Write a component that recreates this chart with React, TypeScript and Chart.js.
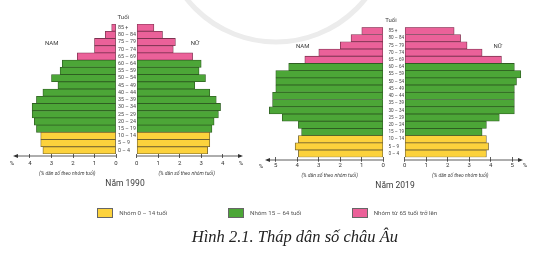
import React, { useEffect, useRef } from "react";
import { Chart, registerables } from "chart.js";

Chart.register(...registerables);

// ---------- data ----------
const AGE_GROUPS = [
  "85 +", "80 – 84", "75 – 79", "70 – 74", "65 – 69", "60 – 64", "55 – 59",
  "50 – 54", "45 – 49", "40 – 44", "35 – 39", "30 – 34", "25 – 29",
  "20 – 24", "15 – 19", "10 – 14", "5 – 9", "0 – 4",
];
// group of each age row: 0 = 0–14, 1 = 15–64, 2 = 65+
const AGE_GROUP_INDEX = [2, 2, 2, 2, 2, 1, 1, 1, 1, 1, 1, 1, 1, 1, 1, 0, 0, 0];

const MALE_1990 = [0.2, 0.5, 1.0, 1.0, 1.8, 2.5, 2.6, 3.0, 2.7, 3.4, 3.7, 3.9, 3.9, 3.8, 3.7, 3.5, 3.5, 3.4];
const FEMALE_1990 = [0.8, 1.2, 1.8, 1.7, 2.6, 3.0, 2.9, 3.2, 2.7, 3.4, 3.7, 3.9, 3.8, 3.6, 3.5, 3.4, 3.4, 3.3];
const MALE_2019 = [1.0, 1.5, 2.0, 3.0, 3.65, 4.4, 5.0, 5.0, 5.0, 5.15, 5.15, 5.3, 4.7, 3.95, 3.8, 3.95, 4.1, 3.95];
const FEMALE_2019 = [2.3, 2.6, 2.9, 3.6, 4.5, 5.1, 5.4, 5.2, 5.1, 5.1, 5.1, 5.1, 4.4, 3.8, 3.6, 3.8, 3.9, 3.8];

const GROUP_LABELS = ["Nhóm 0 – 14 tuổi", "Nhóm 15 – 64 tuổi", "Nhóm từ 65 tuổi trở lên"];
const GROUP_COLORS = ["#FCD23C", "#4CA637", "#EB6199"];
const GROUP_BORDERS = ["#6f6130", "#2f5e22", "#7d3350"];

const AXIS_TITLE = "(% dân số theo nhóm tuổi)";
const FONT = 'Roboto, "Liberation Sans", sans-serif';

// ---------- plugin: axis line with arrow ----------
const axisArrowPlugin = {
  id: "axisArrow",
  afterDraw(chart: any, _args: any, opts: any) {
    const { ctx, chartArea } = chart;
    const y = chartArea.bottom + opts.gap;
    const zeroX = chart.scales.x.getPixelForValue(0);
    const tipX = opts.side === "male" ? chartArea.left : chartArea.right;
    const dir = opts.side === "male" ? -1 : 1;
    ctx.save();
    ctx.strokeStyle = "#333";
    ctx.lineWidth = 0.8;
    ctx.beginPath();
    ctx.moveTo(zeroX, y);
    ctx.lineTo(tipX - dir * 2, y);
    ctx.stroke();
    ctx.fillStyle = "#333";
    ctx.beginPath();
    ctx.moveTo(tipX, y);
    ctx.lineTo(tipX - dir * 5, y - 2);
    ctx.lineTo(tipX - dir * 5, y + 2);
    ctx.closePath();
    ctx.fill();
    ctx.restore();
  },
};

type HalfProps = {
  values: number[];
  side: "male" | "female";
  zero: number;
  tip: number;
  top: number;
  bottom: number;
  ppu: number;
  gap: number;
  tickLen: number;
  tickPad: number;
  ageW: number;
  ageFont: number;
};

function HalfChart(p: HalfProps) {
  const ref = useRef<HTMLCanvasElement | null>(null);
  const AXH = 20;
  const isF = p.side === "female";
  const areaLeft = isF ? p.zero : p.tip;
  const areaRight = isF ? p.tip : p.zero;
  const yW = isF ? p.ageW : 0;
  const canvasLeft = Math.floor(areaLeft - yW - 8);
  const canvasRight = Math.ceil(areaRight + 8);
  const padLeft = areaLeft - yW - canvasLeft;
  const padRight = canvasRight - areaRight;
  const canvasTop = Math.floor(p.top - 8);
  const padTop = p.top - canvasTop;
  const areaH = p.bottom - p.top;
  const canvasH = Math.ceil(padTop + areaH + AXH);
  const padBottom = canvasH - padTop - areaH - AXH;
  const canvasW = canvasRight - canvasLeft;
  const max = (areaRight - areaLeft) / p.ppu;

  useEffect(() => {
    if (!ref.current) return;
    const chart = new Chart(ref.current, {
      type: "bar",
      data: {
        labels: AGE_GROUPS,
        datasets: [
          {
            data: p.values,
            backgroundColor: AGE_GROUP_INDEX.map((g) => GROUP_COLORS[g]),
            borderColor: AGE_GROUP_INDEX.map((g) => GROUP_BORDERS[g]),
            borderWidth: 0.8,
            borderSkipped: false,
            barPercentage: 1,
            categoryPercentage: 1,
          },
        ],
      },
      options: {
        indexAxis: "y",
        responsive: false,
        maintainAspectRatio: false,
        animation: false,
        layout: { padding: { left: padLeft, right: padRight, top: padTop, bottom: padBottom } },
        plugins: {
          legend: { display: false },
          tooltip: { enabled: false },
          axisArrow: { gap: p.gap, side: p.side },
        } as any,
        scales: {
          x: {
            type: "linear",
            min: 0,
            max,
            reverse: !isF,
            position: "bottom",
            afterFit: (s: any) => {
              s.height = AXH;
            },
            border: { display: false },
            grid: {
              display: true,
              drawOnChartArea: false,
              drawTicks: true,
              tickLength: p.tickLen,
              color: "#333",
              lineWidth: 0.8,
            },
            ticks: {
              stepSize: 1,
              includeBounds: false,
              padding: p.tickPad,
              color: "#333",
              font: { family: FONT, size: 6 },
              maxRotation: 0,
              autoSkip: false,
            },
          },
          y: {
            type: "category",
            display: isF,
            position: "left",
            offset: true,
            afterFit: (s: any) => {
              s.width = p.ageW;
            },
            border: { display: false },
            grid: { display: false, drawTicks: false },
            ticks: {
              crossAlign: "far",
              padding: 0,
              color: "#444",
              font: { family: FONT, size: p.ageFont },
              autoSkip: false,
            },
          },
        },
      } as any,
      plugins: [axisArrowPlugin as any],
    });
    return () => chart.destroy();
  }, []);

  return (
    <canvas
      ref={ref}
      width={canvasW}
      height={canvasH}
      style={{ position: "absolute", left: canvasLeft, top: canvasTop, width: canvasW, height: canvasH }}
    />
  );
}

function Txt(props: {
  x: number;
  y: number;
  size: number;
  children: React.ReactNode;
  italic?: boolean;
  family?: string;
  color?: string;
  anchor?: "center" | "left";
}) {
  const tx = props.anchor === "left" ? "0" : "-50%";
  return (
    <div
      style={{
        position: "absolute",
        left: props.x,
        top: props.y,
        transform: `translate(${tx},-50%)`,
        fontSize: props.size,
        fontStyle: props.italic ? "italic" : "normal",
        fontFamily: props.family || FONT,
        color: props.color || "#3a3a3a",
        whiteSpace: "nowrap",
        lineHeight: 1,
      }}
    >
      {props.children}
    </div>
  );
}

const P1990 = { maleZero: 116, femaleZero: 136.7, top: 24, bottom: 154, maleTip: 13, femaleTip: 243 };
const P2019 = { maleZero: 383.3, femaleZero: 404.7, top: 27.3, bottom: 157.3, maleTip: 265, femaleTip: 523 };

export default function App() {
  useEffect(() => {
    document.body.style.margin = "0";
  }, []);
  const legendBoxes = [97.3, 228, 351.7];
  return (
    <div
      style={{
        position: "fixed",
        left: 0,
        top: 0,
        width: 551,
        height: 255,
        background: "#fff",
        overflow: "hidden",
      }}
    >
      <svg width={551} height={255} style={{ position: "absolute", left: 0, top: 0 }}>
        <circle cx={276} cy={-72} r={114} fill="none" stroke="#ececec" strokeWidth={5} />
      </svg>

      {/* 1990 */}
      <HalfChart values={MALE_1990} side="male" zero={P1990.maleZero} tip={P1990.maleTip} top={P1990.top}
        bottom={P1990.bottom} ppu={21.5} gap={2} tickLen={4} tickPad={1.7} ageW={0} ageFont={5.3} />
      <HalfChart values={FEMALE_1990} side="female" zero={P1990.femaleZero} tip={P1990.femaleTip} top={P1990.top}
        bottom={P1990.bottom} ppu={21.5} gap={2} tickLen={4} tickPad={1.7} ageW={18.7} ageFont={5.3} />
      <Txt x={123.3} y={17.3} size={6}>Tuổi</Txt>
      <Txt x={51.7} y={43.3} size={6}>NAM</Txt>
      <Txt x={195} y={43.3} size={6}>NỮ</Txt>
      <Txt x={12} y={163.3} size={6}>%</Txt>
      <Txt x={241} y={163.3} size={6}>%</Txt>
      <Txt x={67.3} y={173.3} size={5} italic>{AXIS_TITLE}</Txt>
      <Txt x={186.7} y={173.3} size={5} italic>{AXIS_TITLE}</Txt>
      <Txt x={125} y={183.3} size={8.5}>Năm 1990</Txt>

      {/* 2019 */}
      <HalfChart values={MALE_2019} side="male" zero={P2019.maleZero} tip={P2019.maleTip} top={P2019.top}
        bottom={P2019.bottom} ppu={21.5} gap={2.7} tickLen={4.5} tickPad={0.3} ageW={0} ageFont={4.6} />
      <HalfChart values={FEMALE_2019} side="female" zero={P2019.femaleZero} tip={P2019.femaleTip} top={P2019.top}
        bottom={P2019.bottom} ppu={21.5} gap={2.7} tickLen={4.5} tickPad={0.3} ageW={16.2} ageFont={4.6} />
      <Txt x={391} y={20} size={6}>Tuổi</Txt>
      <Txt x={302.7} y={45.7} size={6}>NAM</Txt>
      <Txt x={497.7} y={46} size={6}>NỮ</Txt>
      <Txt x={261} y={165.7} size={6}>%</Txt>
      <Txt x={525} y={164.5} size={6}>%</Txt>
      <Txt x={329.7} y={174.7} size={5} italic>{AXIS_TITLE}</Txt>
      <Txt x={460.3} y={174.7} size={5} italic>{AXIS_TITLE}</Txt>
      <Txt x={395} y={185.3} size={8.5}>Năm 2019</Txt>

      {/* legend */}
      {GROUP_LABELS.map((lab, i) => (
        <React.Fragment key={lab}>
          <div
            style={{
              position: "absolute",
              left: legendBoxes[i],
              top: 207.7,
              width: 16,
              height: 10,
              boxSizing: "border-box",
              background: GROUP_COLORS[i],
              border: "0.8px solid #666",
            }}
          />
          <Txt x={legendBoxes[i] + 22} y={213} size={6.2} anchor="left" color="#555">
            {lab}
          </Txt>
        </React.Fragment>
      ))}

      <Txt x={294.9} y={236.7} size={16.5} italic family='"Liberation Serif", "DejaVu Serif", serif' color="#222">
        Hình 2.1. Tháp dân số châu Âu
      </Txt>
    </div>
  );
}
